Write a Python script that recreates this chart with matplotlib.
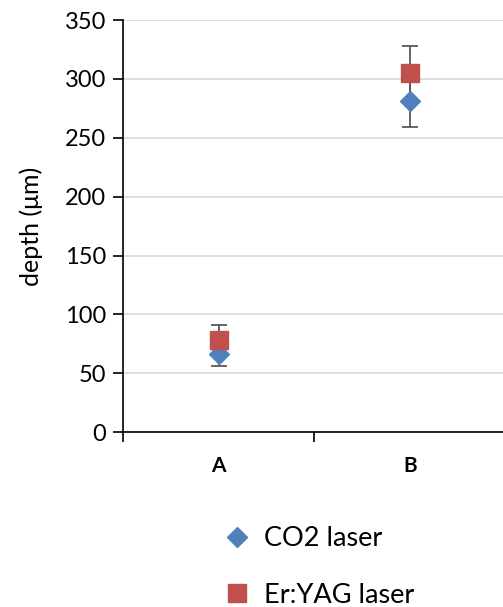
import matplotlib.pyplot as plt
import numpy as np

plt.rcParams['font.family'] = ['Lato', 'DejaVu Sans']

categories = ['A', 'B']
co2 = [66, 281]
co2_err = [10, 22]
eryag = [78, 305]
eryag_err = [13, 23]

blue = '#4F81BD'
red = '#C0504D'

fig = plt.figure(figsize=(5.03, 6.07), dpi=100)
ax = fig.add_axes([0.2445, 0.288, 0.76, 0.679])

x = np.arange(len(categories))
# error bars behind the markers
ax.errorbar(x, co2, yerr=co2_err, fmt='none', ecolor='#595959',
            elinewidth=1.3, capsize=6, capthick=1.3, zorder=2)
ax.errorbar(x, eryag, yerr=eryag_err, fmt='none', ecolor='#595959',
            elinewidth=1.3, capsize=6, capthick=1.3, zorder=2)
ax.plot(x, co2, 'D', color=blue, ms=10, ls='none', label='CO2 laser', zorder=3)
ax.plot(x, eryag, 's', color=red, ms=12.5, ls='none', label='Er:YAG laser', zorder=4)

ax.set_xlim(-0.5, 1.5)
ax.set_ylim(0, 350)
ax.set_yticks(range(0, 351, 50))
ax.set_xticks(x)
ax.set_xticklabels(categories, fontweight='bold', fontsize=15)
ax.set_xticks([-0.5, 0.5, 1.5], minor=True)
ax.tick_params(axis='x', which='major', length=0, pad=17)
ax.tick_params(axis='x', which='minor', length=7, direction='out', width=1.2)
ax.tick_params(axis='y', length=7, direction='out', width=1.2, labelsize=17, pad=5)
ax.grid(axis='y', color='#D9D9D9', lw=1.2, zorder=0)
ax.set_axisbelow(True)
for s in ['top', 'right']:
    ax.spines[s].set_visible(False)
ax.spines['left'].set_linewidth(1.2)
ax.spines['bottom'].set_linewidth(1.2)
ax.set_ylabel('depth (μm)', fontsize=18, labelpad=16)

fig.legend(loc='center', bbox_to_anchor=(0.637, 0.066), frameon=False,
           fontsize=19.5, labelspacing=1.15, handlelength=0.8, handletextpad=0.6)

fig.savefig('out.png', dpi=100)
